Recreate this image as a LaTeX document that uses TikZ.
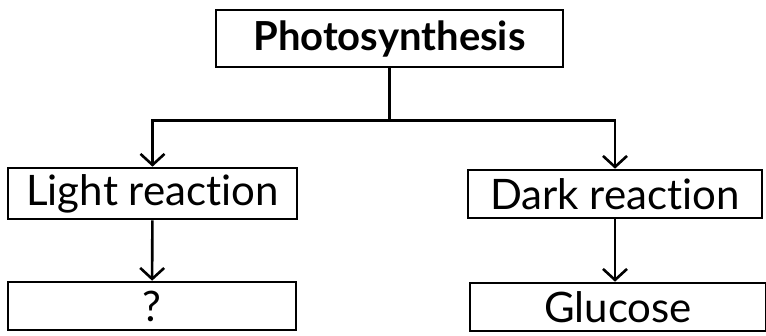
\documentclass[tikz,border=0pt]{standalone}
\usepackage{fontspec}
\setmainfont{Lato}[RawFeature=-liga]
\usetikzlibrary{arrows.meta}
\begin{document}
\begin{tikzpicture}[x=1pt,y=-1pt,
  box/.style={draw, line width=2.6pt, inner sep=0pt, font=\fontsize{42}{46}\selectfont},
  conn/.style={line width=2.6pt},
  arr/.style={conn, -{Straight Barb[length=11pt,width=24pt,line width=2.6pt]}}]
\useasboundingbox (0,0) rectangle (766,335);
\node[box, minimum width=347pt, minimum height=57pt, font=\fontsize{40}{44}\selectfont\bfseries] (ps) at (389.5,38.5) {Photosynthesis};
\node[box, minimum width=289pt, minimum height=51pt] (light) at (152.5,193.5) {Light reaction};
\node[box, minimum width=288pt, minimum height=48pt] (q) at (152,306) {?};
\node[box, minimum width=294pt, minimum height=48pt] (dark) at (615,194) {Dark reaction};
\node[box, minimum width=296pt, minimum height=48pt] (gl) at (618,307) {Glucose};
\draw[conn] (ps.south) -- ++(0,52) coordinate (j);
\draw[arr] (j) -| (light.north);
\draw[arr] (j) -| (dark.north);
\draw[arr] (light) -- (q);
\draw[arr] (dark.south) -- (dark.south |- gl.north);
\end{tikzpicture}
\end{document}
